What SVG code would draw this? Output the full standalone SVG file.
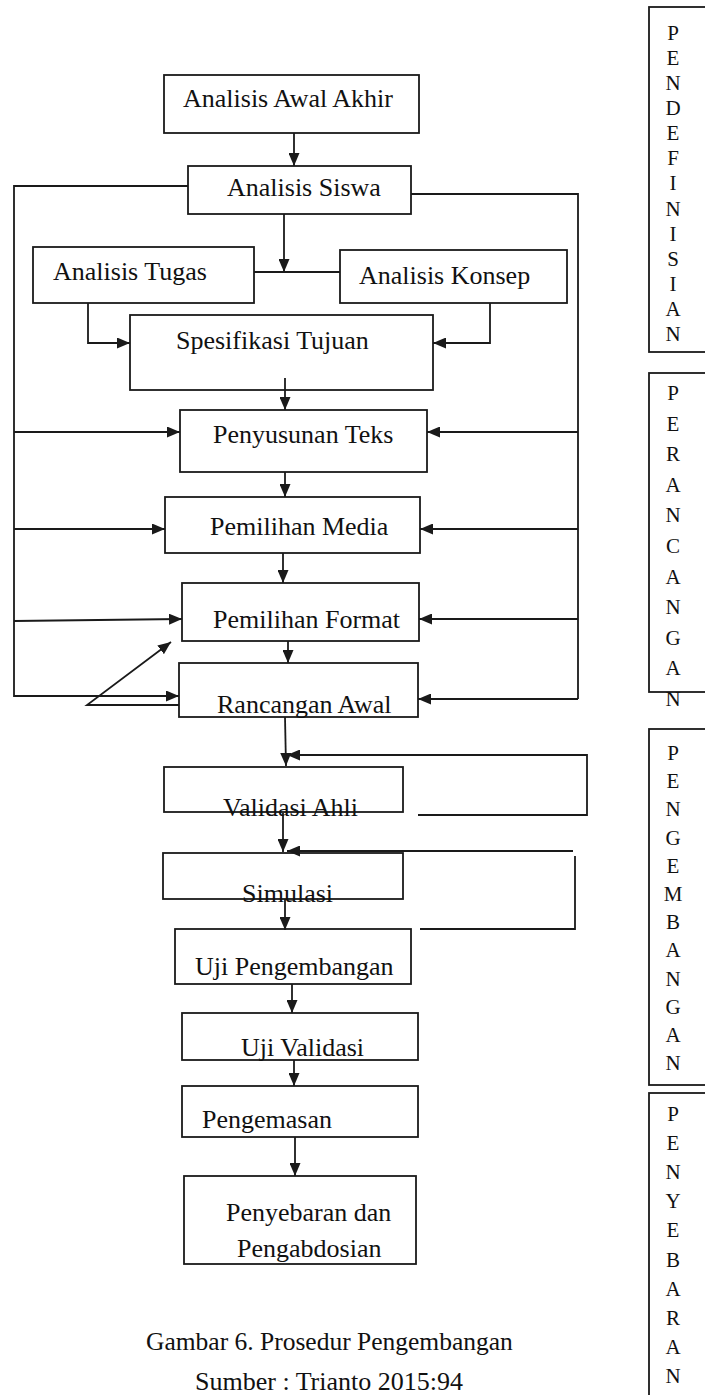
<svg xmlns="http://www.w3.org/2000/svg" width="705" height="1395" viewBox="0 0 705 1395">
<defs>
<style>
.box{fill:none;stroke:#1a1a1a;stroke-width:1.8}
.t{font-family:"Liberation Serif","Times New Roman",serif;font-size:26px;fill:#111}
.s{font-family:"Liberation Serif","Times New Roman",serif;font-size:21px;fill:#111;text-anchor:middle}
.c{fill:none;stroke:#1a1a1a;stroke-width:1.8}
.a{marker-end:url(#ah)}
</style>
<marker id="ah" markerUnits="userSpaceOnUse" markerWidth="13" markerHeight="11" refX="13" refY="5.5" orient="auto">
<path d="M0,0 L13,5.5 L0,11 z" fill="#1a1a1a"/>
</marker>
</defs>
<rect width="705" height="1395" fill="#fff"/>

<g id="connectors">
<line class="c a" x1="294" y1="133" x2="294" y2="166"/>
<line class="c a" x1="284" y1="214" x2="284" y2="272"/>
<line class="c" x1="254" y1="272" x2="340" y2="272"/>
<polyline class="c" points="188,186 14,186 14,697"/>
<polyline class="c" points="411,194 578,194 578,699"/>
<line class="c a" x1="14" y1="432" x2="180" y2="432"/>
<line class="c a" x1="14" y1="529" x2="165" y2="529"/>
<line class="c a" x1="14" y1="621" x2="182" y2="619"/>
<line class="c a" x1="14" y1="696" x2="179" y2="696"/>
<line class="c a" x1="578" y1="432" x2="427" y2="432"/>
<line class="c a" x1="578" y1="529" x2="420" y2="529"/>
<line class="c a" x1="578" y1="619" x2="419" y2="619"/>
<line class="c a" x1="578" y1="699" x2="418" y2="699"/>
<polyline class="c a" points="88,303 88,343 130,343"/>
<polyline class="c a" points="490,303 490,343 433,343"/>
<line class="c a" x1="285" y1="378" x2="285" y2="410"/>
<line class="c a" x1="285" y1="472" x2="285" y2="497"/>
<line class="c a" x1="283" y1="553" x2="283" y2="583"/>
<line class="c a" x1="288" y1="641" x2="288" y2="663"/>
<polyline class="c a" points="179,705 87,705 171,642"/>
<line class="c a" x1="285" y1="717" x2="286" y2="766"/>
<polyline class="c a" points="418,815 587,815 587,755 287,755"/>
<line class="c a" x1="283" y1="813" x2="283" y2="852"/>
<line class="c a" x1="573" y1="851" x2="287" y2="851"/>
<polyline class="c" points="420,929 575,929 575,856"/>
<line class="c a" x1="285" y1="899" x2="285" y2="930"/>
<line class="c a" x1="292" y1="984" x2="292" y2="1013"/>
<line class="c a" x1="294" y1="1060" x2="294" y2="1086"/>
<line class="c a" x1="295" y1="1137" x2="295" y2="1176"/>
</g>

<g id="n-awal"><rect class="box" x="164" y="75" width="255" height="58"/><text class="t" x="183" y="107">Analisis Awal Akhir</text></g>
<g id="n-siswa"><rect class="box" x="188" y="166" width="223" height="48"/><text class="t" x="227" y="196">Analisis Siswa</text></g>
<g id="n-tugas"><rect class="box" x="33" y="247" width="221" height="56"/><text class="t" x="53" y="280">Analisis Tugas</text></g>
<g id="n-konsep"><rect class="box" x="340" y="250" width="227" height="53"/><text class="t" x="359" y="284">Analisis Konsep</text></g>
<g id="n-spesifikasi"><rect class="box" x="130" y="315" width="303" height="75"/><text class="t" x="176" y="349">Spesifikasi Tujuan</text></g>
<g id="n-penyusunan"><rect class="box" x="180" y="410" width="247" height="62"/><text class="t" x="213" y="443">Penyusunan Teks</text></g>
<g id="n-media"><rect class="box" x="165" y="497" width="255" height="56"/><text class="t" x="210" y="535">Pemilihan Media</text></g>
<g id="n-format"><rect class="box" x="182" y="583" width="237" height="58"/><text class="t" x="213" y="628">Pemilihan Format</text></g>
<g id="n-rancangan"><rect class="box" x="179" y="663" width="239" height="54"/><text class="t" x="217" y="713">Rancangan Awal</text></g>
<g id="n-validasi-ahli"><rect class="box" x="164" y="767" width="239" height="45"/><text class="t" x="223" y="816">Validasi Ahli</text></g>
<g id="n-simulasi"><rect class="box" x="163" y="853" width="240" height="46"/><text class="t" x="242" y="902">Simulasi</text></g>
<g id="n-uji-pengembangan"><rect class="box" x="175" y="929" width="236" height="55"/><text class="t" x="195" y="975">Uji Pengembangan</text></g>
<g id="n-uji-validasi"><rect class="box" x="182" y="1013" width="236" height="47"/><text class="t" x="241" y="1056">Uji Validasi</text></g>
<g id="n-pengemasan"><rect class="box" x="182" y="1086" width="236" height="51"/><text class="t" x="202" y="1128">Pengemasan</text></g>
<g id="n-penyebaran"><rect class="box" x="184" y="1176" width="232" height="88"/><text class="t" x="226" y="1221">Penyebaran dan</text><text class="t" x="237" y="1257">Pengabdosian</text></g>

<g id="caption">
<text class="t" x="146" y="1350" style="font-size:25.5px">Gambar 6. Prosedur Pengembangan</text>
<text class="t" x="195" y="1390">Sumber : Trianto 2015:94</text>
</g>

<g id="phase-pendefinisian">
<rect class="box" x="649" y="7" width="70" height="345"/>
<text class="s" x="673" y="40">P</text><text class="s" x="673" y="65">E</text><text class="s" x="673" y="90">N</text><text class="s" x="673" y="115">D</text><text class="s" x="673" y="140">E</text><text class="s" x="673" y="165">F</text><text class="s" x="673" y="190">I</text><text class="s" x="673" y="216">N</text><text class="s" x="673" y="241">I</text><text class="s" x="673" y="266">S</text><text class="s" x="673" y="291">I</text><text class="s" x="673" y="316">A</text><text class="s" x="673" y="341">N</text>
</g>
<g id="phase-perancangan">
<rect class="box" x="649" y="373" width="70" height="319"/>
<text class="s" x="673" y="400">P</text><text class="s" x="673" y="431">E</text><text class="s" x="673" y="461">R</text><text class="s" x="673" y="492">A</text><text class="s" x="673" y="522">N</text><text class="s" x="673" y="553">C</text><text class="s" x="673" y="584">A</text><text class="s" x="673" y="614">N</text><text class="s" x="673" y="645">G</text><text class="s" x="673" y="675">A</text><text class="s" x="673" y="706">N</text>
</g>
<g id="phase-pengembangan">
<rect class="box" x="649" y="729" width="70" height="356"/>
<text class="s" x="673" y="760">P</text><text class="s" x="673" y="788">E</text><text class="s" x="673" y="816">N</text><text class="s" x="673" y="845">G</text><text class="s" x="673" y="873">E</text><text class="s" x="673" y="901">M</text><text class="s" x="673" y="929">B</text><text class="s" x="673" y="957">A</text><text class="s" x="673" y="986">N</text><text class="s" x="673" y="1014">G</text><text class="s" x="673" y="1042">A</text><text class="s" x="673" y="1070">N</text>
</g>
<g id="phase-penyebaran">
<rect class="box" x="649" y="1093" width="70" height="320"/>
<text class="s" x="673" y="1121">P</text><text class="s" x="673" y="1150">E</text><text class="s" x="673" y="1179">N</text><text class="s" x="673" y="1208">Y</text><text class="s" x="673" y="1237">E</text><text class="s" x="673" y="1267">B</text><text class="s" x="673" y="1296">A</text><text class="s" x="673" y="1325">R</text><text class="s" x="673" y="1354">A</text><text class="s" x="673" y="1383">N</text>
</g>
</svg>
